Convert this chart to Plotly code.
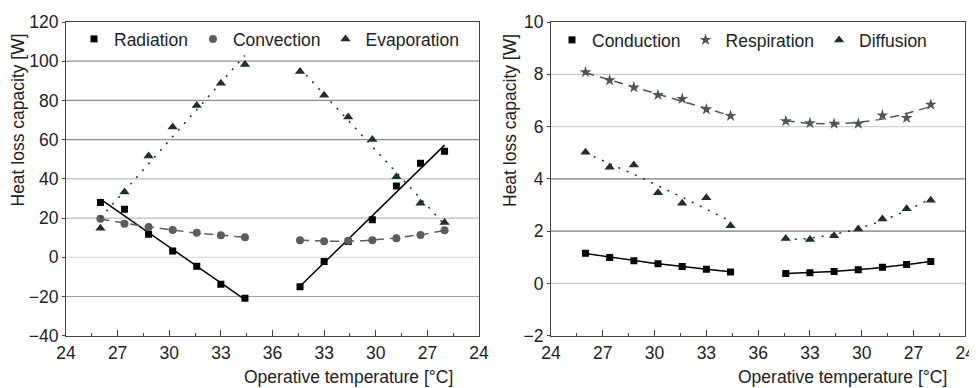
import numpy as np
import plotly.graph_objects as go

# Temperatures of measurement points (°C), rising branch then falling branch
temps_up = [26.0, 27.4, 28.8, 30.2, 31.6, 33.0, 34.4]
temps_down = [34.4, 33.0, 31.6, 30.2, 28.8, 27.4, 26.0]

tick_vals = [24, 27, 30, 33, 36, 39, 42, 45, 48]
tick_text = ["24", "27", "30", "33", "36", "33", "30", "27", "24"]

# Left panel (W)
radiation_up = [28.0, 24.5, 11.7, 3.2, -4.6, -13.8, -20.9]
radiation_down = [-15.0, -2.2, 8.0, 19.2, 36.3, 48.0, 54.1]
convection_up = [19.7, 17.1, 15.4, 13.9, 12.5, 11.2, 10.2]
convection_down = [8.7, 8.2, 8.4, 8.7, 9.7, 11.4, 13.8]
evaporation_up = [14.8, 33.3, 51.6, 66.4, 77.4, 88.7, 98.3]
evaporation_down = [94.8, 82.7, 71.5, 60.1, 41.1, 27.5, 17.8]

# Right panel (W)
conduction_up = [1.15, 0.99, 0.87, 0.75, 0.65, 0.54, 0.44]
conduction_down = [0.38, 0.41, 0.46, 0.52, 0.62, 0.72, 0.84]
respiration_up = [8.08, 7.77, 7.50, 7.21, 7.06, 6.66, 6.41]
respiration_down = [6.21, 6.13, 6.11, 6.11, 6.43, 6.33, 6.84]
diffusion_up = [5.02, 4.44, 4.53, 3.47, 3.07, 3.28, 2.21]
diffusion_down = [1.72, 1.68, 1.82, 2.08, 2.46, 2.86, 3.18]

left_grid = [-20, 0, 20, 40, 60, 80, 100]
left_grid_colors = ["#a0a0a0", "#cfcfcf", "#bdbdbd", "#bdbdbd", "#8c8c8c", "#8c8c8c", "#8c8c8c"]
right_grid = [0, 2, 4, 6, 8]
right_grid_colors = ["#cccccc", "#7a7a7a", "#7a7a7a", "#d0d0d0", "#cccccc"]

# axis position: rising branch uses temperature, falling branch mirrored about 36
x_up = list(temps_up)
x_down = [72 - t for t in temps_down]

FONT = "Liberation Sans, Arial, sans-serif"
FS = 17.5

# page body has an 8px margin: figure drawn at (8,8)
OFF = 8
W, H = 977 - OFF, 388 - OFF


def fx(px):
    return (px - OFF) / W


def fy(py):
    return 1 - (py - OFF) / H


fig = go.Figure()


def add_series(name, up, down, color, symbol, size, dash, deg, xa, ya, legend, lw=1.5):
    xs = x_up + x_down
    ys = up + down
    for xx, yy in ((x_up, up), (x_down, down)):
        c = np.polyfit(xx, yy, deg)
        xf = np.linspace(min(xx), max(xx), 60)
        fig.add_trace(go.Scatter(
            x=xf, y=np.polyval(c, xf), mode="lines", showlegend=False,
            line=dict(color=color, width=lw, dash=dash),
            xaxis=xa, yaxis=ya, hoverinfo="skip"))
    fig.add_trace(go.Scatter(
        x=xs, y=ys, mode="markers", name=name, legend=legend,
        marker=dict(symbol=symbol, size=size, color=color, line=dict(width=0)),
        xaxis=xa, yaxis=ya, showlegend=True))


add_series("Radiation", radiation_up, radiation_down, "#000000", "square", 7, "solid", 1, "x", "y", "legend")
add_series("Convection", convection_up, convection_down, "#5a5e5e", "circle", 8, "9px,6px", 2, "x", "y", "legend")
add_series("Evaporation", evaporation_up, evaporation_down, "#1f2e2e", "triangle-up", 9, "2px,7px", 1, "x", "y", "legend")

add_series("Conduction", conduction_up, conduction_down, "#000000", "square", 7, "solid", 2, "x2", "y2", "legend2")
add_series("Respiration", respiration_up, respiration_down, "#4d5555", "star", 9, "9px,6px", 2, "x2", "y2", "legend2")
add_series("Diffusion", diffusion_up, diffusion_down, "#1f2e2e", "triangle-up", 9, "2px,7px", 2, "x2", "y2", "legend2")

xdom1 = [fx(66), fx(479)]
xdom2 = [fx(551), fx(965.3)]
ydom = [fy(335.7), fy(22)]

xaxis_common = dict(
    range=[24, 48], tickmode="array", tickvals=tick_vals, ticktext=tick_text,
    ticks="inside", ticklen=6, tickcolor="#444", tickwidth=1,
    minor=dict(tick0=24, dtick=1.5, ticks="inside", ticklen=3, tickcolor="#444", showgrid=False),
    showgrid=False, zeroline=False, showline=True, mirror=True,
    linecolor="#444", linewidth=1, tickfont=dict(family=FONT, size=FS, color="#222"),
    ticklabelstandoff=1, automargin=False)
yaxis_common = dict(
    ticks="outside", ticklen=3, tickcolor="#444", showgrid=False,
    zeroline=False, showline=True, mirror=True, linecolor="#444", linewidth=1,
    tickfont=dict(family=FONT, size=FS, color="#222"), automargin=False)

fig.update_layout(
    width=W, height=H, margin=dict(l=0, r=0, t=0, b=0),
    paper_bgcolor="white", plot_bgcolor="white",
    font=dict(family=FONT, size=FS, color="#222"),
    xaxis=dict(domain=xdom1, anchor="y", **xaxis_common),
    yaxis=dict(domain=ydom, anchor="x", range=[-40, 120], tickvals=list(range(-40, 121, 20)), **yaxis_common),
    xaxis2=dict(domain=xdom2, anchor="y2", **xaxis_common),
    yaxis2=dict(domain=ydom, anchor="x2", range=[-2, 10], tickvals=list(range(-2, 11, 2)), **yaxis_common),
    legend=dict(orientation="h", x=fx(74), xanchor="left", y=fy(39), yanchor="middle",
                bgcolor="rgba(0,0,0,0)", font=dict(family=FONT, size=FS, color="#222")),
    legend2=dict(orientation="h", x=fx(552), xanchor="left", y=fy(40), yanchor="middle",
                 bgcolor="rgba(0,0,0,0)", font=dict(family=FONT, size=FS, color="#222")),
    showlegend=True,
)

for val, col in zip(left_grid, left_grid_colors):
    fig.add_shape(type="line", xref="x domain", yref="y", x0=0, x1=1, y0=val, y1=val,
                  line=dict(color=col, width=1.2), layer="below")
for val, col in zip(right_grid, right_grid_colors):
    fig.add_shape(type="line", xref="x2 domain", yref="y2", x0=0, x1=1, y0=val, y1=val,
                  line=dict(color=col, width=1.2), layer="below")

ann = [
    dict(text="Operative temperature [°C]", x=fx(455), y=fy(376.7), xanchor="right", yanchor="middle"),
    dict(text="Operative temperature [°C]", x=fx(949.3), y=fy(376.7), xanchor="right", yanchor="middle"),
    dict(text="Heat loss capacity [W]", x=fx(17.5), y=fy(120), xanchor="center", yanchor="middle", textangle=-90),
    dict(text="Heat loss capacity [W]", x=fx(510), y=fy(121), xanchor="center", yanchor="middle", textangle=-90),
]
for a in ann:
    fig.add_annotation(xref="paper", yref="paper", showarrow=False,
                       font=dict(family=FONT, size=FS, color="#222"), **a)

fig.write_html("out.html")
